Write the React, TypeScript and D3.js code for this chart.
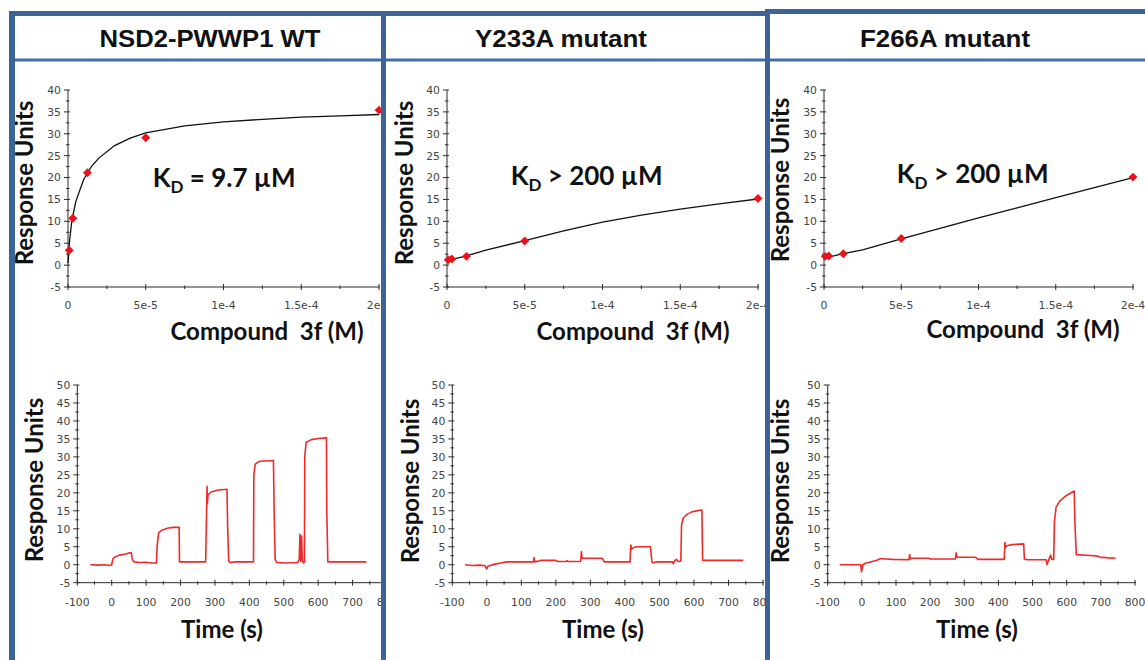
import * as d3 from 'd3';
import React, { useEffect, useRef } from 'react';

const titles = ['NSD2-PWWP1 WT', 'Y233A mutant', 'F266A mutant'];
const kdTexts = [' = 9.7 µM', ' > 200 µM', ' > 200 µM'];

// steady-state binding points (compound 3f, M)
const conc = [7.8e-7, 3.1e-6, 1.25e-5, 5e-5, 2e-4];
const wtRU = [3.4, 10.7, 21.1, 29.1, 35.4];
const y233aRU = [1.2, 1.4, 2.0, 5.5, 15.2];
const f266aRU = [2.0, 2.1, 2.6, 6.1, 20.1];

// fitted curves
const fitConcWT = [0, 1e-6, 2.5e-6, 5e-6, 1e-5, 1.5e-5, 2e-5, 3e-5, 4e-5, 5e-5, 7.5e-5, 1e-4, 1.25e-4, 1.5e-4, 1.75e-4, 2e-4];
const fitWT = [0.5, 5.5, 10.2, 14.5, 19.5, 22.5, 24.5, 27.3, 29.0, 30.2, 31.8, 32.7, 33.3, 33.8, 34.1, 34.4];
const fitConcMut = [0, 1.25e-5, 2.5e-5, 5e-5, 7.5e-5, 1e-4, 1.25e-4, 1.5e-4, 1.75e-4, 2e-4];
const fitY233A = [1.0, 2.1, 3.4, 5.6, 7.8, 9.8, 11.4, 12.8, 14.0, 15.1];
const fitF266A = [1.6, 2.6, 3.5, 6.0, 8.4, 10.8, 13.1, 15.4, 17.7, 20.0];

// sensorgrams [time (s), RU]
const traceWT = [
  [-62, 0], [-40, -0.1], [-20, 0], [-5, -0.2], [0, 0], [3, 1.5], [8, 2.1], [20, 2.6], [40, 3.0], [52, 3.3],
  [57, 3.3], [60, 1.5], [65, 0.8], [80, 0.6], [100, 0.7], [115, 0.5], [130, 0.5], [132, 5], [136, 8.8],
  [145, 9.6], [165, 10.2], [180, 10.4], [196, 10.4], [197, 0.8], [273, 0.8], [275, 11], [277, 21.8],
  [278, 17], [280, 19.5], [290, 20.3], [310, 20.8], [335, 21], [337, 10], [340, 1.0], [345, 0.6], [360, 0.8],
  [412, 0.8], [413, 25], [417, 28], [430, 28.8], [470, 29], [472, 15], [475, 1.5], [480, 0.6], [510, 0.5],
  [540, 0.6], [545, 1.5], [547, 8.5], [549, 1], [552, 8], [554, 1], [558, 0.5], [560, 0.8], [561, 30],
  [565, 34], [580, 34.8], [600, 35.1], [624, 35.3], [625, 15], [628, 0.8], [740, 0.8],
];
const traceY233A = [
  [-63, 0], [-40, -0.2], [-20, -0.1], [-5, -0.3], [0, -1.2], [3, -0.4], [20, 0.1], [40, 0.5], [58, 0.8],
  [135, 0.8], [137, 2.0], [139, 0.8], [150, 1.0], [155, 1.2], [200, 1.2], [205, 0.9], [230, 0.9], [232, 1.1],
  [236, 0.9], [272, 0.9], [274, 3.7], [276, 1.8], [300, 1.8], [335, 1.8], [340, 0.8], [415, 0.8], [417, 5.5],
  [420, 4.3], [425, 4.8], [435, 5.0], [474, 5.0], [478, 1.0], [481, 0.5], [490, 0.8], [538, 0.8], [540, 0.3],
  [545, 1.2], [550, 1.5], [553, 0.9], [562, 1.0], [564, 11], [569, 13], [580, 14], [594, 14.7], [620, 15.2],
  [623, 15.2], [625, 1.2], [743, 1.2],
];
const traceF266A = [
  [-65, 0], [-30, 0], [-3, 0], [-1, -2], [1, -1], [3, 0], [10, 0.4], [22, 0.7], [42, 1.2], [56, 1.7],
  [71, 1.6], [90, 1.5], [138, 1.4], [140, 2.8], [142, 1.6], [148, 1.8], [197, 1.8], [200, 1.6], [274, 1.6],
  [276, 3.3], [278, 2.1], [332, 2.1], [340, 1.5], [417, 1.5], [419, 6.2], [421, 4.8], [425, 5.3], [439, 5.6],
  [474, 5.8], [476, 1.6], [485, 1.4], [540, 1.4], [542, 0], [546, 1], [553, 2.7], [556, 1.5], [562, 1.5],
  [564, 12], [569, 16], [579, 17.6], [598, 19.2], [622, 20.5], [624, 12], [628, 2.8], [680, 2.5], [690, 2.4],
  [700, 2.0], [710, 2.1], [720, 1.9], [743, 1.8],
];

const concTicks = [0, 5e-5, 1e-4, 1.5e-4, 2e-4];
const concTickLabels = ['0', '5e-5', '1e-4', '1.5e-4', '2e-4'];
const ruTicksTop = [-5, 0, 5, 10, 15, 20, 25, 30, 35, 40];
const ruTicksBottom = [-5, 0, 5, 10, 15, 20, 25, 30, 35, 40, 45, 50];
const timeTicks = [-100, 0, 100, 200, 300, 400, 500, 600, 700, 800];

const points = [wtRU, y233aRU, f266aRU];
const fits = [
  [fitConcWT, fitWT],
  [fitConcMut, fitY233A],
  [fitConcMut, fitF266A],
];
const traces = [traceWT, traceY233A, traceF266A];

const panels = [
  { clip: [14, 381], titleX: 210, titleW: 221, kd: [152.7, 187],
    top: { x: [68, 379], yLab: [33, 183], xLab: [267, 340] },
    bot: { x: [77.3, 387], yLab: [43.3, 480], xLab: [222, 638] } },
  { clip: [386, 765], titleX: 561, titleW: 172, kd: [510.7, 185],
    top: { x: [447, 758], yLab: [412.7, 183], xLab: [633, 340] },
    bot: { x: [452.3, 763], yLab: [419, 481], xLab: [603, 638] } },
  { clip: [770, 1145], titleX: 945, titleW: 170, kd: [896.7, 183],
    top: { x: [824, 1133], yLab: [789, 180], xLab: [1023, 338] },
    bot: { x: [827.7, 1135], yLab: [789, 481], xLab: [977, 638] } },
];

const BORDER = '#3c6496';
const LABEL_FONT = 'Lato, "Open Sans", sans-serif';
const TICK_FONT = '"DejaVu Sans", sans-serif';

function drawAxes(g, x, y, xTicks, xLabels, yTicks, labelOffset) {
  const [x0, x1] = x.range();
  const [yb, yt] = y.range();
  const xMinor = d3.pairs(xTicks).map(([a, b]) => (a + b) / 2);
  const yMinor = d3.pairs(yTicks).map(([a, b]) => (a + b) / 2);
  const ax = g.append('g').attr('stroke', '#2a2a2a').attr('stroke-width', 1);
  ax.append('line').attr('x1', x0).attr('x2', x0).attr('y1', yt).attr('y2', yb);
  ax.append('line').attr('x1', x0).attr('x2', x1 + 1).attr('y1', yb).attr('y2', yb);
  ax.selectAll('.ymaj').data(yTicks).join('line')
    .attr('x1', x0 - 4).attr('x2', x0 + 2).attr('y1', (d) => y(d)).attr('y2', (d) => y(d));
  ax.selectAll('.ymin').data(yMinor).join('line').attr('class', 'ymin')
    .attr('x1', x0 - 2).attr('x2', x0 + 1.5).attr('y1', (d) => y(d)).attr('y2', (d) => y(d));
  ax.selectAll('.xmaj').data(xTicks).join('line').attr('class', 'xmaj')
    .attr('x1', (d) => x(d)).attr('x2', (d) => x(d)).attr('y1', yb - 3).attr('y2', yb + 3);
  ax.selectAll('.xmin').data(xMinor).join('line').attr('class', 'xmin')
    .attr('x1', (d) => x(d)).attr('x2', (d) => x(d)).attr('y1', yb - 1.5).attr('y2', yb + 2);

  const lab = g.append('g').attr('font-family', TICK_FONT).attr('font-size', 10.8).attr('fill', '#444');
  lab.selectAll('.yl').data(yTicks).join('text').attr('class', 'yl')
    .attr('x', x0 - 7).attr('y', (d) => y(d)).attr('dy', '0.36em')
    .attr('text-anchor', 'end').text((d) => d);
  lab.selectAll('.xl').data(xTicks).join('text').attr('class', 'xl')
    .attr('x', (d) => x(d)).attr('y', yb + labelOffset)
    .attr('text-anchor', 'middle').text((d, i) => xLabels[i]);
}

function axisTitles(g, yLab, xLab, xText) {
  g.append('text')
    .attr('transform', `translate(${yLab[0]},${yLab[1]}) rotate(-90)`)
    .attr('text-anchor', 'middle').attr('font-family', LABEL_FONT)
    .attr('font-weight', 700).attr('font-size', 24).attr('fill', '#111')
    .text('Response Units');
  g.append('text')
    .attr('x', xLab[0]).attr('y', xLab[1])
    .attr('text-anchor', 'middle').attr('font-family', LABEL_FONT)
    .attr('font-weight', 700).attr('font-size', 24).attr('fill', '#111')
    .style('white-space', 'pre')
    .text(xText);
}

export default function App() {
  const svgRef = useRef(null);

  useEffect(() => {
    const svg = d3.select(svgRef.current);
    svg.selectAll('*').remove();
    svg.append('rect').attr('width', 1145).attr('height', 660).attr('fill', '#fff');

    const defs = svg.append('defs');
    panels.forEach((p, i) => {
      defs.append('clipPath').attr('id', `panel-${i}`)
        .append('rect').attr('x', p.clip[0]).attr('y', 16)
        .attr('width', p.clip[1] - p.clip[0]).attr('height', 660);
    });

    const line = d3.line().curve(d3.curveLinear);

    panels.forEach((p, i) => {
      const g = svg.append('g').attr('clip-path', `url(#panel-${i})`);

      g.append('text')
        .attr('x', p.titleX).attr('y', 47)
        .attr('text-anchor', 'middle')
        .attr('font-family', '"Liberation Sans", Arial, sans-serif')
        .attr('font-weight', 700).attr('font-size', 23).attr('fill', '#111')
        .attr('textLength', p.titleW).attr('lengthAdjust', 'spacingAndGlyphs')
        .text(titles[i]);

      // binding isotherm
      const xc = d3.scaleLinear().domain([0, 2e-4]).range(p.top.x);
      const yc = d3.scaleLinear().domain([-5, 40]).range([287, 90]);
      drawAxes(g, xc, yc, concTicks, concTickLabels, ruTicksTop, 22);

      const [fx, fy] = fits[i];
      g.append('path')
        .attr('d', line(fx.map((c, k) => [xc(c), yc(fy[k])])))
        .attr('fill', 'none').attr('stroke', '#111').attr('stroke-width', 1.3);

      g.selectAll('.pt').data(conc).join('path').attr('class', 'pt')
        .attr('d', d3.symbol(d3.symbolSquare, 40))
        .attr('transform', (c, k) => `translate(${xc(c)},${yc(points[i][k])}) rotate(45)`)
        .attr('fill', '#e8141c');

      const kd = g.append('text')
        .attr('x', p.kd[0]).attr('y', p.kd[1])
        .attr('font-family', LABEL_FONT).attr('font-weight', 700)
        .attr('font-size', 26).attr('fill', '#111');
      kd.append('tspan').text('K');
      kd.append('tspan').attr('dy', 6).attr('font-size', 17).text('D');
      kd.append('tspan').attr('dy', -6).style('white-space', 'pre').text(kdTexts[i]);

      axisTitles(g, p.top.yLab, p.top.xLab, 'Compound\u00a0 3f (M)');

      // sensorgram
      const xt = d3.scaleLinear().domain([-100, 800]).range(p.bot.x);
      const yt = d3.scaleLinear().domain([-5, 50]).range([582.7, 385]);
      drawAxes(g, xt, yt, timeTicks, timeTicks.map(String), ruTicksBottom, 23);

      g.append('path')
        .attr('d', line(traces[i].map(([t, r]) => [xt(t), yt(r)])))
        .attr('fill', 'none').attr('stroke', '#ee2a2a').attr('stroke-width', 1.6)
        .attr('stroke-linejoin', 'round');

      axisTitles(g, p.bot.yLab, p.bot.xLab, 'Time (s)');
    });

    // panel frames
    const fr = svg.append('g').attr('fill', BORDER);
    fr.append('rect').attr('x', 9).attr('y', 58.5).attr('width', 1136).attr('height', 3).attr('fill', '#3f6eab');
    fr.append('rect').attr('x', 9).attr('y', 11).attr('width', 761).attr('height', 5);
    fr.append('rect').attr('x', 765).attr('y', 9).attr('width', 380).attr('height', 5);
    fr.append('rect').attr('x', 9).attr('y', 11).attr('width', 6).attr('height', 649);
    fr.append('rect').attr('x', 381).attr('y', 11).attr('width', 5).attr('height', 649);
    fr.append('rect').attr('x', 765).attr('y', 9).attr('width', 5).attr('height', 651);
  }, []);

  return (
    <svg
      ref={svgRef}
      width={1145}
      height={660}
      style={{ position: 'absolute', left: 0, top: 0, display: 'block' }}
    />
  );
}
